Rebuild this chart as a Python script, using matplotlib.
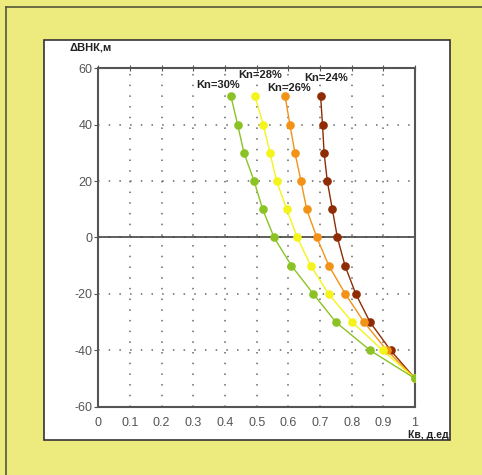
import matplotlib
matplotlib.use("Agg")
import matplotlib.pyplot as plt
from matplotlib.patches import Rectangle
from matplotlib.lines import Line2D

plt.rcParams['font.family'] = ['Liberation Sans', 'DejaVu Sans']
plt.rcParams['axes.unicode_minus'] = False

# depth above/below the water-oil contact, m
dvnk = [50, 40, 30, 20, 10, 0, -10, -20, -30, -40, -50]

# water saturation for each porosity value
kv_30 = [0.419, 0.440, 0.460, 0.492, 0.519, 0.555, 0.610, 0.679, 0.750, 0.858, 1.0]
kv_28 = [0.495, 0.521, 0.542, 0.563, 0.595, 0.628, 0.671, 0.727, 0.802, 0.898, 1.0]
kv_26 = [0.590, 0.605, 0.621, 0.640, 0.658, 0.690, 0.728, 0.780, 0.839, 0.911, 1.0]
kv_24 = [0.702, 0.708, 0.713, 0.723, 0.739, 0.755, 0.779, 0.813, 0.858, 0.923, 1.0]

# drawn back to front so the green curve ends on top at Kв = 1
series = [
    ("Kn=24%", kv_24, "#8f2c04"),
    ("Kn=26%", kv_26, "#f29318"),
    ("Kn=28%", kv_28, "#f4f41c"),
    ("Kn=30%", kv_30, "#8cc324"),
]
label_pos = {
    "Kn=30%": (0.377, 54.1),
    "Kn=28%": (0.510, 57.6),
    "Kn=26%": (0.602, 53.1),
    "Kn=24%": (0.719, 56.7),
}

W, H = 482, 475
fig = plt.figure(figsize=(W / 100, H / 100), dpi=100)
fig.patch.set_facecolor("#eeeb7e")

# outer frame edges (top and left only)
fig.add_artist(Line2D([6 / W, 1], [1 - 7 / H, 1 - 7 / H], color="#55553a", lw=1.2, zorder=-2))
fig.add_artist(Line2D([6 / W, 6 / W], [0, 1 - 7 / H], color="#55553a", lw=1.2, zorder=-2))

# white chart panel behind the axes
fig.add_artist(Rectangle((44 / W, 1 - 440 / H), 406 / W, 400 / H,
                         facecolor="white", edgecolor="#333333", lw=1.2, zorder=-1))

ax = fig.add_axes([98.3 / W, 1 - 406.7 / H, 316.7 / W, 338.4 / H])
ax.set_facecolor("white")

for name, kv, color in series:
    ax.plot(kv, dvnk, color=color, lw=1.0, marker="o", markersize=5.2,
            markeredgecolor=color, zorder=3)
    tx, ty = label_pos[name]
    ax.text(tx, ty, name, fontsize=8, fontweight="bold",
            ha="center", va="center", color="#222222", zorder=4)

ax.axhline(0, color="#444444", lw=1.2, zorder=2)

ax.set_xlim(0, 1)
ax.set_ylim(-60, 60)
ax.set_xticks([i / 10 for i in range(11)])
ax.set_xticklabels(["0", "0.1", "0.2", "0.3", "0.4", "0.5", "0.6", "0.7", "0.8", "0.9", "1"])
ax.set_yticks([-60, -40, -20, 0, 20, 40, 60])

ax.grid(True, color="#666666", linestyle=(0, (1, 6)), lw=1.1)
for s in ax.spines.values():
    s.set_color("#555555")
    s.set_linewidth(1.5)

ax.tick_params(axis="x", bottom=False, top=True, direction="inout", length=5,
               color="#555555", labelsize=9, labelcolor="#555555", pad=5)
ax.tick_params(axis="y", left=True, direction="out", length=3,
               color="#555555", labelsize=9, labelcolor="#555555", pad=1)

fig.text(69 / W, 1 - 48 / H, "ΔВНК,м", fontsize=8, fontweight="bold",
         ha="left", va="center", color="#222222")
fig.text(449 / W, 1 - 438 / H, "Кв, д.ед", fontsize=7.5, fontweight="bold",
         ha="right", va="baseline", color="#222222")

fig.savefig("out.png", dpi=100, facecolor=fig.get_facecolor())
